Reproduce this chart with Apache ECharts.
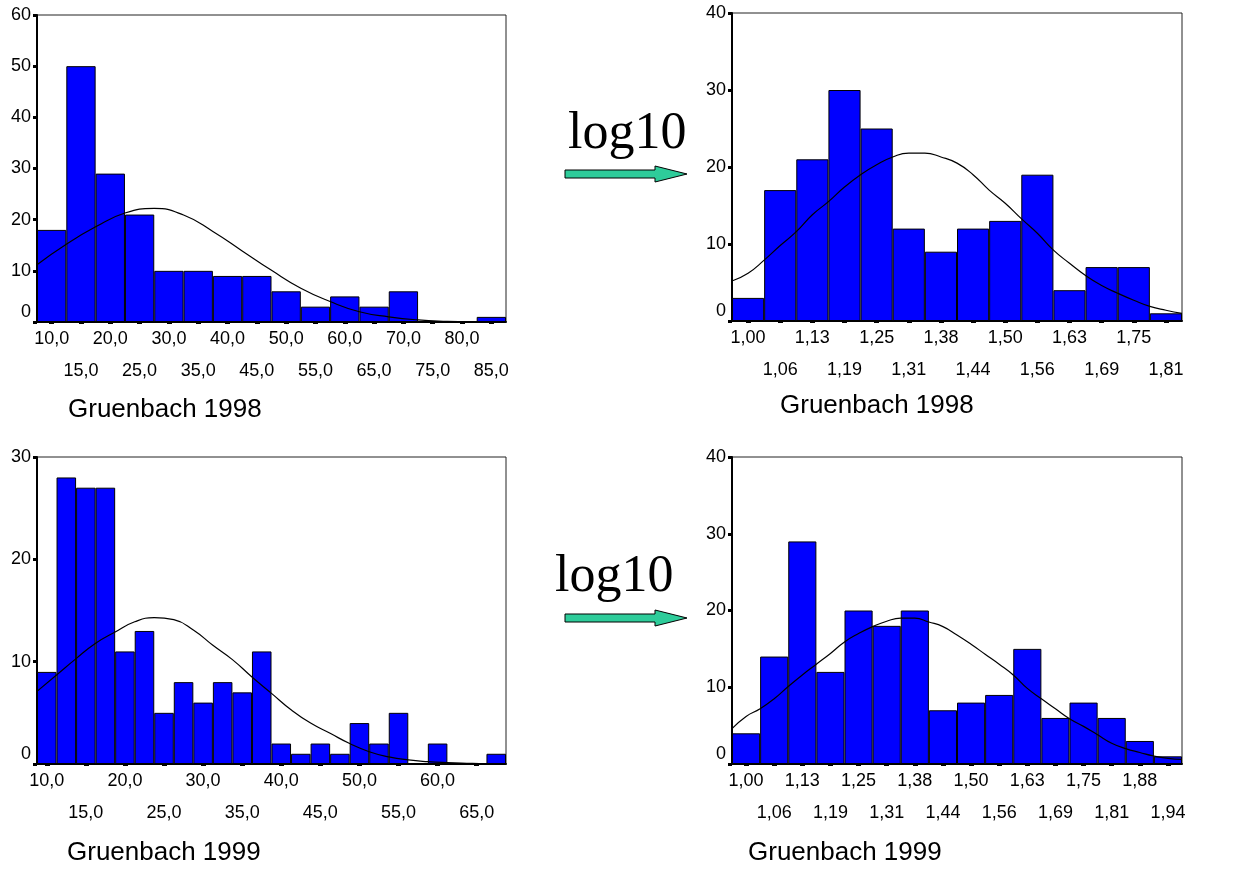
<!DOCTYPE html>
<html>
<head>
<meta charset="utf-8">
<title>Gruenbach 1998 / 1999</title>
<script src="https://cdn.jsdelivr.net/npm/echarts@6/dist/echarts.min.js"></script>
<style>
  html, body { margin: 0; padding: 0; background: #fff; }
  #chart { width: 1244px; height: 872px; }
</style>
</head>
<body>
<div id="chart"></div>
<script>
// ---- Gruenbach 1998, raw values (bin width 5) ----
const raw98Labels = ['10,0','15,0','20,0','25,0','30,0','35,0','40,0','45,0','50,0','55,0','60,0','65,0','70,0','75,0','80,0','85,0'];
const raw98Counts = [18, 50, 29, 21, 10, 10, 9, 9, 6, 3, 5, 3, 6, 0, 0, 1];
const raw98Range = [7.5, 87.5];
const raw98CurveX = [7.5, 12.5, 17.5, 22.5, 27.5, 32.5, 37.5, 42.5, 47.5, 52.5, 57.5, 62.5, 67.5, 72.5, 77.5, 82.5, 87.5];
const raw98CurveY = [11.2, 15.2, 18.6, 21.3, 22.2, 20.9, 17.7, 13.9, 10.1, 6.6, 4.0, 2.0, 1.0, 0.4, 0.15, 0.05, 0.02];
const raw98YMax = 60;

// ---- Gruenbach 1998, log10 values (bin width 0.0625) ----
const log98Labels = ['1,00','1,06','1,13','1,19','1,25','1,31','1,38','1,44','1,50','1,56','1,63','1,69','1,75','1,81'];
const log98Counts = [3, 17, 21, 30, 25, 12, 9, 12, 13, 19, 4, 7, 7, 1];
const log98Range = [0.96875, 1.84375];
const log98CurveX = [0.96875, 1.0, 1.03125, 1.0625, 1.09375, 1.125, 1.15625, 1.1875, 1.21875, 1.25, 1.28125, 1.3125, 1.34375, 1.375, 1.40625, 1.4375, 1.46875, 1.5, 1.53125, 1.5625, 1.59375, 1.625, 1.65625, 1.6875, 1.71875, 1.75, 1.78125, 1.8125, 1.84375];
const log98CurveY = [5.2, 6.2, 7.9, 9.8, 11.6, 13.8, 15.5, 17.4, 19.0, 20.3, 21.3, 21.8, 21.8, 21.3, 20.5, 19.0, 17.0, 15.3, 13.3, 11.4, 9.2, 7.5, 5.9, 4.6, 3.6, 2.7, 1.9, 1.4, 1.0];
const log98YMax = 40;

// ---- Gruenbach 1999, raw values (bin width 2.5) ----
const raw99Labels = ['10,0','12,5','15,0','17,5','20,0','22,5','25,0','27,5','30,0','32,5','35,0','37,5','40,0','42,5','45,0','47,5','50,0','52,5','55,0','57,5','60,0','62,5','65,0','67,5'];
const raw99Counts = [9, 28, 27, 27, 11, 13, 5, 8, 6, 8, 7, 11, 2, 1, 2, 1, 4, 2, 5, 0, 2, 0, 0, 1];
const raw99Range = [8.75, 68.75];
const raw99CurveX = [8.75, 11.25, 13.75, 16.25, 18.75, 21.25, 23.75, 26.25, 28.75, 31.25, 33.75, 36.25, 38.75, 41.25, 43.75, 46.25, 48.75, 51.25, 53.75, 56.25, 58.75, 61.25, 63.75, 66.25, 68.75];
const raw99CurveY = [7.1, 8.7, 10.3, 11.8, 12.9, 13.9, 14.3, 14.1, 13.1, 11.6, 10.2, 8.5, 6.9, 5.3, 4.0, 3.0, 2.0, 1.2, 0.7, 0.4, 0.23, 0.13, 0.07, 0.03, 0.02];
const raw99YMax = 30;

// ---- Gruenbach 1999, log10 values (bin width 0.0625) ----
const log99Labels = ['1,00','1,06','1,13','1,19','1,25','1,31','1,38','1,44','1,50','1,56','1,63','1,69','1,75','1,81','1,88','1,94'];
const log99Counts = [4, 14, 29, 12, 20, 18, 20, 7, 8, 9, 15, 6, 8, 6, 3, 1];
const log99Range = [0.96875, 1.96875];
const log99CurveX = [0.96875, 1.0, 1.03125, 1.0625, 1.09375, 1.125, 1.15625, 1.1875, 1.21875, 1.25, 1.28125, 1.3125, 1.34375, 1.375, 1.40625, 1.4375, 1.46875, 1.5, 1.53125, 1.5625, 1.59375, 1.625, 1.65625, 1.6875, 1.71875, 1.75, 1.78125, 1.8125, 1.84375, 1.875, 1.90625, 1.9375, 1.96875];
const log99CurveY = [4.6, 6.2, 7.2, 8.5, 10.1, 11.6, 13.0, 14.4, 15.9, 17.0, 17.9, 18.6, 19.0, 19.0, 18.5, 17.9, 16.8, 15.6, 14.3, 13.0, 11.6, 9.85, 8.5, 7.2, 5.9, 4.9, 3.8, 2.7, 2.0, 1.5, 1.04, 0.74, 0.6];
const log99YMax = 40;

const FONT = '"Liberation Sans", Arial, Helvetica, sans-serif';

const panels = [
  { labels: raw98Labels, counts: raw98Counts, range: raw98Range, cx: raw98CurveX, cy: raw98CurveY, ymax: raw98YMax,
    grid: { left: 37, top: 15, width: 469, height: 307 } },
  { labels: log98Labels, counts: log98Counts, range: log98Range, cx: log98CurveX, cy: log98CurveY, ymax: log98YMax,
    grid: { left: 732, top: 13, width: 450, height: 308 } },
  { labels: raw99Labels, counts: raw99Counts, range: raw99Range, cx: raw99CurveX, cy: raw99CurveY, ymax: raw99YMax,
    grid: { left: 37, top: 457, width: 469, height: 307 } },
  { labels: log99Labels, counts: log99Counts, range: log99Range, cx: log99CurveX, cy: log99CurveY, ymax: log99YMax,
    grid: { left: 732, top: 457, width: 450, height: 307 } }
];

// raw 1999 panel only labels every second bin; labels alternate between two rows
function catLabel(p) {
  const every = p.labels.length === 24 ? 2 : 1;
  return function (val, idx) {
    if (idx % every !== 0) return '';
    const k = idx / every;
    return k % 2 ? '\n' + val : val;
  };
}

const grids = [], xAxes = [], yAxes = [], series = [];
panels.forEach(function (p, i) {
  grids.push(Object.assign({ show: true, borderColor: '#222', borderWidth: 1, backgroundColor: '#fff' }, p.grid));
  // category axis: one band per histogram bin
  xAxes.push({
    type: 'category', gridIndex: i, data: p.labels, boundaryGap: true,
    axisLine: { show: true, onZero: false, lineStyle: { color: '#000', width: 2 } },
    axisTick: { show: true, alignWithLabel: true, length: 2, lineStyle: { color: '#000', width: 5 },
      interval: p.labels.length === 24 ? function (idx) { return idx % 2 === 0; } : 0 },
    axisLabel: { interval: 0, formatter: catLabel(p), color: '#000', fontFamily: FONT, fontSize: 18, lineHeight: 32, margin: 1 },
    splitLine: { show: false }
  });
  // value axis spanning the bin edges, used for the normal curve
  xAxes.push({ type: 'value', gridIndex: i, min: p.range[0], max: p.range[1], show: false, splitLine: { show: false } });
  yAxes.push({
    type: 'value', gridIndex: i, min: 0, max: p.ymax, interval: 10,
    axisLine: { show: true, lineStyle: { color: '#000', width: 2 } },
    axisTick: { show: true, length: 4, lineStyle: { color: '#000', width: 3 } },
    axisLabel: {
      color: '#000', fontFamily: FONT, fontSize: 18, margin: 6,
      formatter: function (v) { return v === 0 ? '{z|0}' : String(v); },
      rich: { z: { fontFamily: FONT, fontSize: 18, color: '#000', padding: [0, 0, 20, 0] } }
    },
    splitLine: { show: false }
  });
  series.push({
    type: 'bar', xAxisIndex: 2 * i, yAxisIndex: i, data: p.counts,
    barCategoryGap: '0%', barGap: '0%',
    itemStyle: { color: '#0000ff', borderColor: '#000', borderWidth: 1 },
    z: 2
  });
  series.push({
    type: 'line', xAxisIndex: 2 * i + 1, yAxisIndex: i,
    data: p.cx.map(function (x, k) { return [x, p.cy[k]]; }),
    smooth: 0.5, showSymbol: false, symbol: 'none',
    lineStyle: { color: '#000', width: 1.2 },
    z: 3
  });
});

function arrow(cy) {
  return {
    type: 'polygon',
    shape: { points: [[565, cy - 4], [655, cy - 4], [655, cy - 8], [687, cy], [655, cy + 8], [655, cy + 4], [565, cy + 4]] },
    style: { fill: '#2ecc9a', stroke: '#000', lineWidth: 1 }
  };
}

const graphics = [
  { type: 'text', x: 68, y: 410, style: { text: 'Gruenbach 1998', font: '26px ' + FONT, fill: '#000', verticalAlign: 'middle' } },
  { type: 'text', x: 780, y: 406, style: { text: 'Gruenbach 1998', font: '26px ' + FONT, fill: '#000', verticalAlign: 'middle' } },
  { type: 'text', x: 67, y: 853, style: { text: 'Gruenbach 1999', font: '26px ' + FONT, fill: '#000', verticalAlign: 'middle' } },
  { type: 'text', x: 748, y: 853, style: { text: 'Gruenbach 1999', font: '26px ' + FONT, fill: '#000', verticalAlign: 'middle' } },
  { type: 'text', x: 568, y: 160, style: { text: 'log10', font: '52px "Liberation Serif", "Times New Roman", serif', fill: '#000', verticalAlign: 'bottom' } },
  { type: 'text', x: 555, y: 603, style: { text: 'log10', font: '52px "Liberation Serif", "Times New Roman", serif', fill: '#000', verticalAlign: 'bottom' } },
  arrow(174),
  arrow(618)
];

const chart = echarts.init(document.getElementById('chart'), null, { renderer: 'canvas' });
chart.setOption({
  animation: false,
  backgroundColor: '#fff',
  grid: grids,
  xAxis: xAxes,
  yAxis: yAxes,
  series: series,
  graphic: graphics
});
</script>
</body>
</html>
